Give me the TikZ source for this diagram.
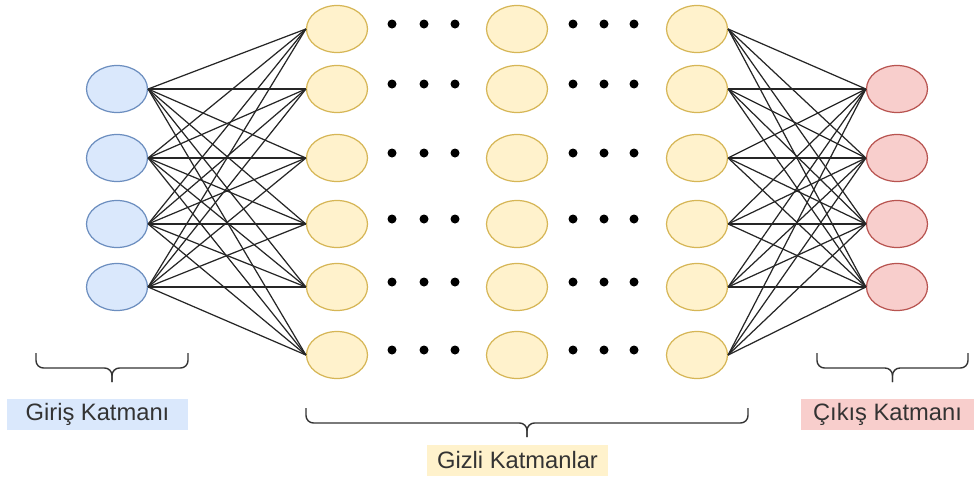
\documentclass[tikz,border=0pt]{standalone}
\usepackage{fontspec}
\setmainfont{Liberation Sans}
\usepackage{xcolor}
\usetikzlibrary{shapes.geometric}

\definecolor{girisfill}{HTML}{DAE8FC}
\definecolor{girisline}{HTML}{6C8EBF}
\definecolor{gizlifill}{HTML}{FFF2CC}
\definecolor{gizliline}{HTML}{D6B656}
\definecolor{cikisfill}{HTML}{F8CECC}
\definecolor{cikisline}{HTML}{B85450}
\definecolor{yazi}{HTML}{333333}

\begin{document}
\begin{tikzpicture}[x=0.02cm, y=-0.02cm,
    neuron/.style={ellipse, line width=0.7pt, minimum width=1.22cm, minimum height=0.94cm, inner sep=0pt},
    edge/.style={line width=0.7pt, black!85},
    bracket/.style={line width=0.8pt, black!80, rounded corners=0.15cm},
    etiket/.style={text=yazi, font=\fontsize{13.5}{16}\selectfont, minimum height=0.62cm, inner sep=0pt}]
    \useasboundingbox (0,0) rectangle (974,477);

    % input layer
    \foreach \i/\y in {1/89, 2/158, 3/224, 4/287}
        \node[neuron, draw=girisline, fill=girisfill] (i\i) at (117,\y) {};

    % hidden layers, three columns
    \foreach \j/\y in {1/29, 2/89, 3/158, 4/224, 5/287, 6/355} {
        \node[neuron, draw=gizliline, fill=gizlifill] (a\j) at (337,\y) {};
        \node[neuron, draw=gizliline, fill=gizlifill] (b\j) at (517,\y) {};
        \node[neuron, draw=gizliline, fill=gizlifill] (c\j) at (697,\y) {};
        % dots between the columns
        \foreach \x in {392, 424, 455, 573, 604, 634}
            \fill (\x,\y-5) circle (4.5);
    }

    % output layer
    \foreach \k/\y in {1/89, 2/158, 3/224, 4/287}
        \node[neuron, draw=cikisline, fill=cikisfill] (o\k) at (897,\y) {};

    % full connections
    \foreach \i in {1,...,4}
        \foreach \j in {1,...,6}
            \draw[edge] (i\i.east) -- (a\j.west);
    \foreach \j in {1,...,6}
        \foreach \k in {1,...,4}
            \draw[edge] (c\j.east) -- (o\k.west);

    % curly brackets under each layer: left end, right end, top
    \foreach \l/\r/\t in {36/188/353, 306/748/408, 817/968/353} {
        \pgfmathsetmacro\m{(\l+\r)/2}
        \draw[bracket] (\l,\t) |- (\m,\t+15) -- (\m,\t+29);
        \draw[bracket] (\r,\t) |- (\m,\t+15) -- (\m,\t+29);
    }

    \node[etiket, fill=girisfill, minimum width=3.62cm] (giris) at (97.5,414.5) {Giriş Katmanı};
    \node[etiket, fill=gizlifill, minimum width=3.62cm] (gizli) at (517.5,460.5) {Gizli Katmanlar};
    \node[etiket, fill=cikisfill, minimum width=3.46cm] (cikis) at (887.5,414.5) {Çıkış Katmanı};
\end{tikzpicture}
\end{document}
